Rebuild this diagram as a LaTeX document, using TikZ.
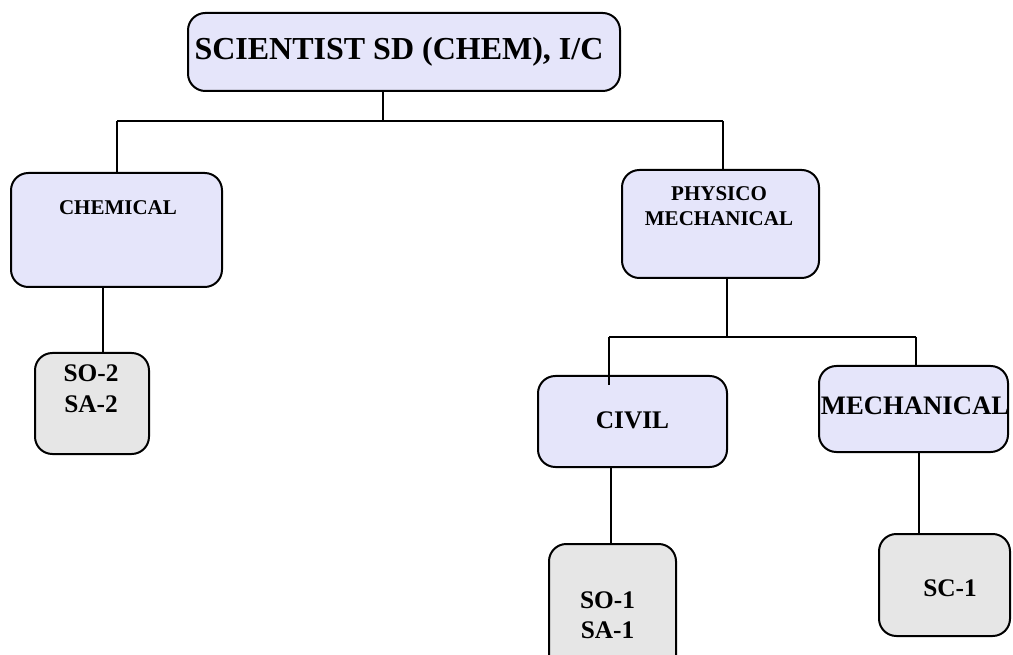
\documentclass[tikz,border=0pt]{standalone}
\usepackage{fontspec}
\setmainfont{Liberation Serif}
\definecolor{lavender}{RGB}{229,229,250}
\definecolor{paleGray}{RGB}{230,230,230}
\begin{document}
\begin{tikzpicture}[x=.75pt,y=-.75pt,line join=round,line width=1.5pt,
  unit/.style={draw,rounded corners=13pt,fill=lavender,inner sep=0pt},
  staff/.style={draw,rounded corners=13pt,fill=paleGray,inner sep=0pt},
  lbl/.style={anchor=base,align=center,inner sep=0pt,font=\bfseries\fontsize{19}{22.5}\selectfont},
  small/.style={lbl,font=\bfseries\fontsize{15.75}{19}\selectfont}]
\useasboundingbox (0,0) rectangle (1013,655);
\node[unit,minimum width=324pt,minimum height=58.5pt] (sci) at (404,52) {};
\node[unit,minimum width=158.25pt,minimum height=85.5pt] (chem) at (116.5,230) {};
\node[staff,minimum width=85.5pt,minimum height=75.75pt] (so2) at (92,403.5) {};
\node[unit,minimum width=147.75pt,minimum height=81pt] (phys) at (720.5,224) {};
\node[unit,minimum width=141.75pt,minimum height=68.25pt] (civil) at (632.5,421.5) {};
\node[unit,minimum width=141.75pt,minimum height=64.5pt] (mech) at (913.5,409) {};
\node[staff,minimum width=95.25pt,minimum height=102pt] (so1) at (612.5,612) {};
\node[staff,minimum width=98.25pt,minimum height=76.5pt] (sc1) at (944.5,585) {};
\node[lbl,font=\bfseries\fontsize{24}{28}\selectfont] (sci-t) at (399,60) {SCIENTIST SD (CHEM), I/C};
\node[small] (chem-t) at (118,215) {CHEMICAL};
\node[lbl] (so2-t) at (91,412) {SO-2\\SA-2};
\node[small] (phys-t) at (719,226) {PHYSICO\\MECHANICAL};
\node[lbl] (civil-t) at (632.5,429) {CIVIL};
\node[lbl,font=\bfseries\fontsize{20}{24}\selectfont] (mech-t) at (915,415) {MECHANICAL};
\node[lbl] (so1-t) at (607.5,638) {SO-1\\SA-1};
\node[lbl] (sc1-t) at (950,596) {SC-1};
\coordinate (b0) at (383,121);
\coordinate (bl) at (117,121);
\coordinate (br) at (723,121);
\coordinate (c0) at (727,337);
\coordinate (cl) at (609,337);
\coordinate (cr) at (916,337);
\coordinate (cd) at (609,385);
\coordinate (k1) at (103,300);
\coordinate (k2) at (611,500);
\coordinate (k3) at (919,500);
\draw (sci.south -| b0)--(b0) (bl)--(br) (bl)--(chem.north -| bl) (br)--(phys.north -| br);
\draw (phys.south -| c0)--(c0) (cl)--(cr) (cl)--(cd) (cr)--(mech.north -| cr);
\draw (chem.south -| k1)--(so2.north -| k1);
\draw (civil.south -| k2)--(so1.north -| k2);
\draw (mech.south -| k3)--(sc1.north -| k3);
\end{tikzpicture}
\end{document}
